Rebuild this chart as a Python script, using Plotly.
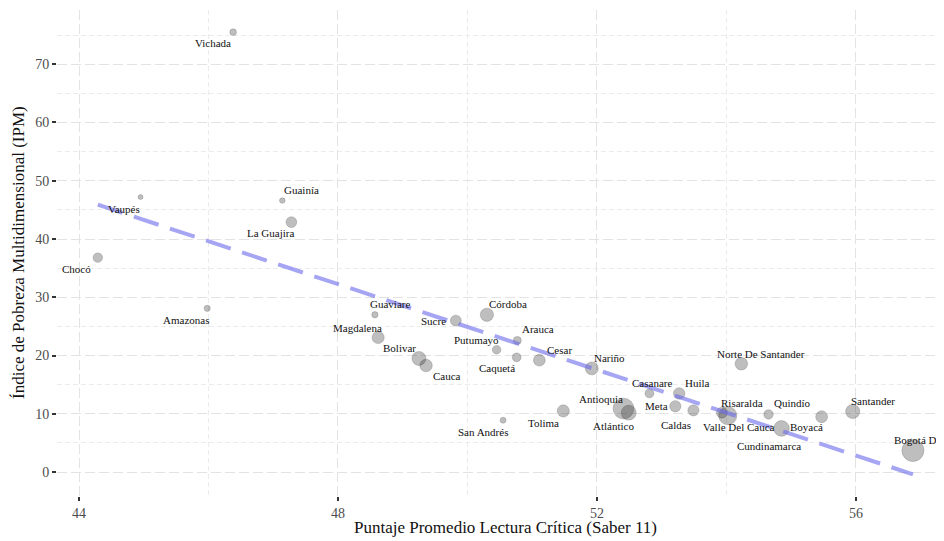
import numpy as np
import plotly.graph_objects as go

# ---------------- data ----------------
departamentos = ["Vichada", "Vaupés", "Guainía", "La Guajira", "Chocó", "Amazonas",
                 "Guaviare", "Magdalena", "Sucre", "Córdoba", "Arauca", "Putumayo",
                 "Caquetá", "Cesar", "Bolivar", "Cauca", "Nariño", "Norte De Santander",
                 "San Andrés", "Tolima", "Antioquia", "Atlántico", "Casanare", "Huila",
                 "Meta", "Caldas", "Risaralda", "Valle Del Cauca", "Quindío",
                 "Cundinamarca", "Boyacá", "Santander", "Bogotá D.C."]
lectura_critica = [46.38, 44.95, 47.14, 47.28, 44.29, 45.98,
                   48.57, 48.62, 49.82, 50.30, 50.77, 50.45,
                   50.76, 51.11, 49.25, 49.36, 51.92, 54.23,
                   50.55, 51.48, 52.41, 52.49, 52.81, 53.27,
                   53.21, 53.49, 53.93, 54.02, 54.65,
                   54.85, 55.47, 55.95, 56.88]
ipm = [75.5, 47.2, 46.6, 42.9, 36.8, 28.1,
       27.0, 23.1, 26.0, 27.0, 22.6, 21.0,
       19.7, 19.2, 19.5, 18.3, 17.8, 18.6,
       8.9, 10.5, 10.9, 10.2, 13.5, 13.5,
       11.3, 10.6, 10.2, 9.7, 9.9,
       7.5, 9.5, 10.4, 3.7]
poblacion_miles = [108, 40, 48, 880, 535, 77,
                   83, 1340, 905, 1780, 265, 350,
                   400, 1200, 2070, 1460, 1630, 1490,
                   62, 1330, 6400, 2530, 420, 1100,
                   1040, 1000, 940, 4480, 540,
                   2900, 1220, 2180, 7410]
x_ticks = [44, 48, 52, 56]
y_ticks = [0, 10, 20, 30, 40, 50, 60, 70]

# label offsets (px, right / down) for the text labels
label_offsets = {
    "Vichada": (-20, 11), "Vaupés": (-17, 12), "Guainía": (19, -11), "La Guajira": (-21, 11),
    "Chocó": (-21, 11), "Amazonas": (-21, 12), "Guaviare": (15, -11), "Magdalena": (-21, -10),
    "Sucre": (-22, 0), "Córdoba": (21, -11), "Arauca": (21, -11), "Putumayo": (-20, -10),
    "Caquetá": (-20, 11), "Cesar": (20, -10), "Bolivar": (-19, -10), "Cauca": (21, 11),
    "Nariño": (18, -10), "Norte De Santander": (20, -10), "San Andrés": (-20, 12),
    "Tolima": (-20, 12), "Antioquia": (-23, -10), "Atlántico": (-15, 13), "Casanare": (3, -10),
    "Huila": (18, -10), "Meta": (-19, 0), "Caldas": (-17, 15), "Risaralda": (20, -10),
    "Valle Del Cauca": (11, 11), "Quindío": (24, -11), "Cundinamarca": (-12, 18),
    "Boyacá": (-15, 10), "Santander": (20, -11), "Bogotá D.C.": (9, -11),
}

# ---------------- scales ----------------
x = np.array(lectura_critica)
y = np.array(ipm)
p = np.array(poblacion_miles, dtype=float)
d_min, d_max = 5.0, 22.0
sizes = d_min + (d_max - d_min) * np.sqrt((p - p.min()) / (p.max() - p.min()))

slope, intercept = np.polyfit(x, y, 1)
x_fit = np.array([x.min(), x.max()])
y_fit = slope * x_fit + intercept

FONT = "Liberation Serif, Times New Roman, serif"

fig = go.Figure()
fig.add_trace(go.Scatter(
    x=x, y=y, mode="markers",
    marker=dict(size=sizes, color="rgba(25,25,25,0.40)",
                line=dict(width=0.8, color="rgba(25,25,25,0.35)")),
    hovertext=departamentos, showlegend=False,
))
fig.add_trace(go.Scatter(
    x=x_fit, y=y_fit, mode="lines",
    line=dict(color="rgba(105,105,235,0.6)", width=4, dash="26px,12px"),
    showlegend=False,
))

annotations = []
for name, xi, yi in zip(departamentos, lectura_critica, ipm):
    dx, dy = label_offsets[name]
    annotations.append(dict(
        x=xi, y=yi, xref="x", yref="y", text=name, showarrow=False,
        xanchor="center", yanchor="middle", xshift=dx, yshift=-dy,
        font=dict(family=FONT, size=11, color="#111111"),
    ))
annotations.append(dict(
    x=(506 - 57) / 887, y=0, xref="paper", yref="paper", yshift=-31,
    text="Puntaje Promedio Lectura Crítica (Saber 11)", showarrow=False,
    xanchor="center", yanchor="middle",
    font=dict(family=FONT, size=17, color="#111111"),
))
annotations.append(dict(
    x=0, y=0.5, xref="paper", yref="paper", xshift=-39,
    text="Índice de Pobreza Multidimensional (IPM)", showarrow=False, textangle=-90,
    xanchor="center", yanchor="middle",
    font=dict(family=FONT, size=17, color="#111111"),
))

grid_major = "#e3e3e3"
grid_minor = "#ececec"

fig.update_layout(
    width=936, height=533,
    margin=dict(l=49, r=0, t=2, b=45),
    plot_bgcolor="white", paper_bgcolor="white",
    annotations=annotations,
    xaxis=dict(
        range=[43.66, 57.36], tickvals=x_ticks, ticktext=[str(v) for v in x_ticks],
        showgrid=True, gridcolor=grid_major, griddash="10px,4px", gridwidth=1.2,
        minor=dict(tickvals=[46, 50, 54], showgrid=True, gridcolor=grid_minor,
                   griddash="5px,3px", gridwidth=0.8, ticks=""),
        zeroline=False, showline=False,
        ticks="outside", ticklen=4, tickwidth=1.5, tickcolor="#333333",
        tickfont=dict(family=FONT, size=14, color="#4d4d4d"),
    ),
    yaxis=dict(
        range=[-4.1, 79.3], tickvals=y_ticks, ticktext=[str(v) for v in y_ticks],
        showgrid=True, gridcolor=grid_major, griddash="10px,4px", gridwidth=1.2,
        minor=dict(tickvals=[5, 15, 25, 35, 45, 55, 65, 75], showgrid=True,
                   gridcolor=grid_minor, griddash="5px,3px", gridwidth=0.8, ticks=""),
        zeroline=False, showline=False,
        ticks="outside", ticklen=4, tickwidth=1.5, tickcolor="#333333",
        tickfont=dict(family=FONT, size=14, color="#4d4d4d"),
    ),
)

fig.write_html("out.html")
